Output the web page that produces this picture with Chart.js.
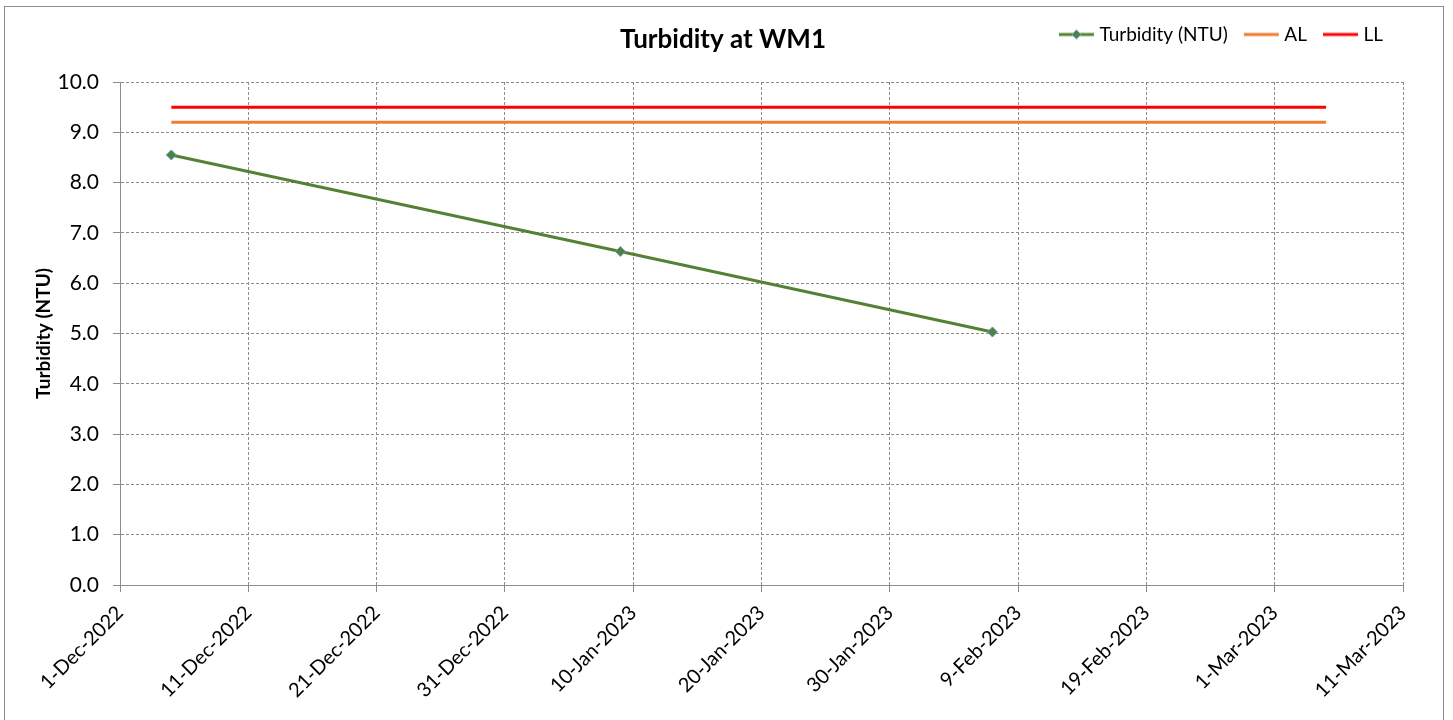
<!DOCTYPE html>
<html>
<head>
<meta charset="utf-8">
<script src="https://cdn.jsdelivr.net/npm/chart.js@4.4.1/dist/chart.umd.min.js"></script>
<style>
  body { margin: 0; background: #fff; }
  #wrap { width: 1453px; height: 720px; }
</style>
</head>
<body>
<div id="wrap"><canvas id="turbidityChart"></canvas></div>
<script>
// ===== DATA =====
const sampleDates = ['2022-12-05', '2023-01-09', '2023-02-07'];
const turbidity = [8.55, 6.63, 5.03];
const limitDates = ['2022-12-05', '2023-03-05'];
const actionLevel = [9.2, 9.2];
const limitLevel = [9.5, 9.5];
const axisStart = '2022-12-01';
const axisEnd = '2023-03-11';
const tickStepDays = 10;
const yMin = 0, yMax = 10, yStep = 1;
const monthNames = ['Jan', 'Feb', 'Mar', 'Apr', 'May', 'Jun', 'Jul', 'Aug', 'Sep', 'Oct', 'Nov', 'Dec'];

const DAY = 86400000;
const t0 = Date.parse(axisStart);
function dayNum(s) { return (Date.parse(s) - t0) / DAY; }
function fmtDay(v) {
  const d = new Date(t0 + v * DAY);
  return d.getUTCDate() + '-' + monthNames[d.getUTCMonth()] + '-' + d.getUTCFullYear();
}
function toPoints(dates, vals) { return dates.map((d, i) => ({ x: dayNum(d), y: vals[i] })); }

const FONT = 'Lato, "Open Sans", sans-serif';
const GRID = '#8c8c8c';

// legend swatches: line (+ diamond marker)
function swatch(color, marker) {
  const c = document.createElement('canvas');
  c.width = 43; c.height = 12;
  const g = c.getContext('2d');
  g.strokeStyle = color; g.lineWidth = 3;
  g.beginPath(); g.moveTo(4, 6); g.lineTo(39, 6); g.stroke();
  if (marker) {
    g.beginPath();
    g.moveTo(21.5, 1.5); g.lineTo(26, 6); g.lineTo(21.5, 10.5); g.lineTo(17, 6); g.closePath();
    g.fillStyle = color; g.fill();
    g.lineWidth = 1; g.strokeStyle = '#5B9BD5'; g.stroke();
  }
  return c;
}
const legendImgs = [swatch('#548235', true), swatch('#ED7D31', false), swatch('#FF0000', false)];

const frame = {
  id: 'frame',
  beforeInit(chart) {
    const fit = chart.legend.fit;
    chart.legend.fit = function () { fit.call(this); this.height += 28; };
  },
  afterDraw(chart) {
    const ctx = chart.ctx;
    ctx.save();
    ctx.strokeStyle = '#8c8c8c';
    ctx.lineWidth = 1;
    ctx.strokeRect(4.5, 6.5, 1439, 720);
    ctx.fillStyle = '#000';
    ctx.font = 'bold 26px ' + FONT;
    ctx.textAlign = 'center';
    ctx.textBaseline = 'middle';
    ctx.fillText('Turbidity at WM1', 723, 40);
    ctx.restore();
  }
};

new Chart(document.getElementById('turbidityChart').getContext('2d'), {
  type: 'line',
  data: {
    datasets: [
      {
        label: 'Turbidity (NTU)',
        data: toPoints(sampleDates, turbidity),
        borderColor: '#548235',
        backgroundColor: '#548235',
        borderWidth: 3,
        pointStyle: 'rectRot',
        pointRadius: 5,
        pointBorderColor: '#5B9BD5',
        pointBorderWidth: 1,
        pointBackgroundColor: '#548235',
        tension: 0
      },
      {
        label: 'AL',
        data: toPoints(limitDates, actionLevel),
        borderColor: '#ED7D31',
        backgroundColor: '#ED7D31',
        borderWidth: 3,
        pointRadius: 0
      },
      {
        label: 'LL',
        data: toPoints(limitDates, limitLevel),
        borderColor: '#FF0000',
        backgroundColor: '#FF0000',
        borderWidth: 3,
        pointRadius: 0
      }
    ]
  },
  options: {
    responsive: true,
    maintainAspectRatio: false,
    animation: false,
    layout: { padding: { left: 0, right: 50, top: 5, bottom: 0 } },
    plugins: {
      title: { display: false },
      tooltip: { enabled: false },
      legend: {
        position: 'top',
        align: 'end',
        labels: {
          usePointStyle: true,
          pointStyleWidth: 27,
          padding: 20,
          color: '#000',
          font: { family: FONT, size: 19 },
          generateLabels(chart) {
            const items = Chart.defaults.plugins.legend.labels.generateLabels(chart);
            items.forEach((it, i) => { it.pointStyle = legendImgs[i]; });
            return items;
          }
        }
      }
    },
    scales: {
      x: {
        type: 'linear',
        min: dayNum(axisStart),
        max: dayNum(axisEnd),
        afterFit(scale) { scale.height = 135; },
        ticks: {
          stepSize: tickStepDays,
          autoSkip: false,
          maxRotation: 45,
          minRotation: 45,
          padding: 9,
          color: '#000',
          font: { family: FONT, size: 20 },
          callback: function (v) { return fmtDay(v); }
        },
        grid: { color: GRID, lineWidth: 1, tickLength: 7, tickColor: GRID },
        border: { display: true, color: GRID, width: 1, dash: [3, 2] }
      },
      y: {
        min: yMin,
        max: yMax,
        afterFit(scale) { scale.width = 120; },
        ticks: {
          stepSize: yStep,
          padding: 14,
          color: '#000',
          font: { family: FONT, size: 21 },
          callback: function (v) { return v.toFixed(1); }
        },
        title: {
          display: true,
          text: 'Turbidity (NTU)',
          color: '#000',
          font: { family: FONT, size: 19, weight: 'bold' },
          padding: { top: 32, bottom: 0 }
        },
        grid: { color: GRID, lineWidth: 1, tickLength: 7, tickColor: GRID },
        border: { display: true, color: GRID, width: 1, dash: [3, 2] }
      }
    }
  },
  plugins: [frame]
});
</script>
</body>
</html>
